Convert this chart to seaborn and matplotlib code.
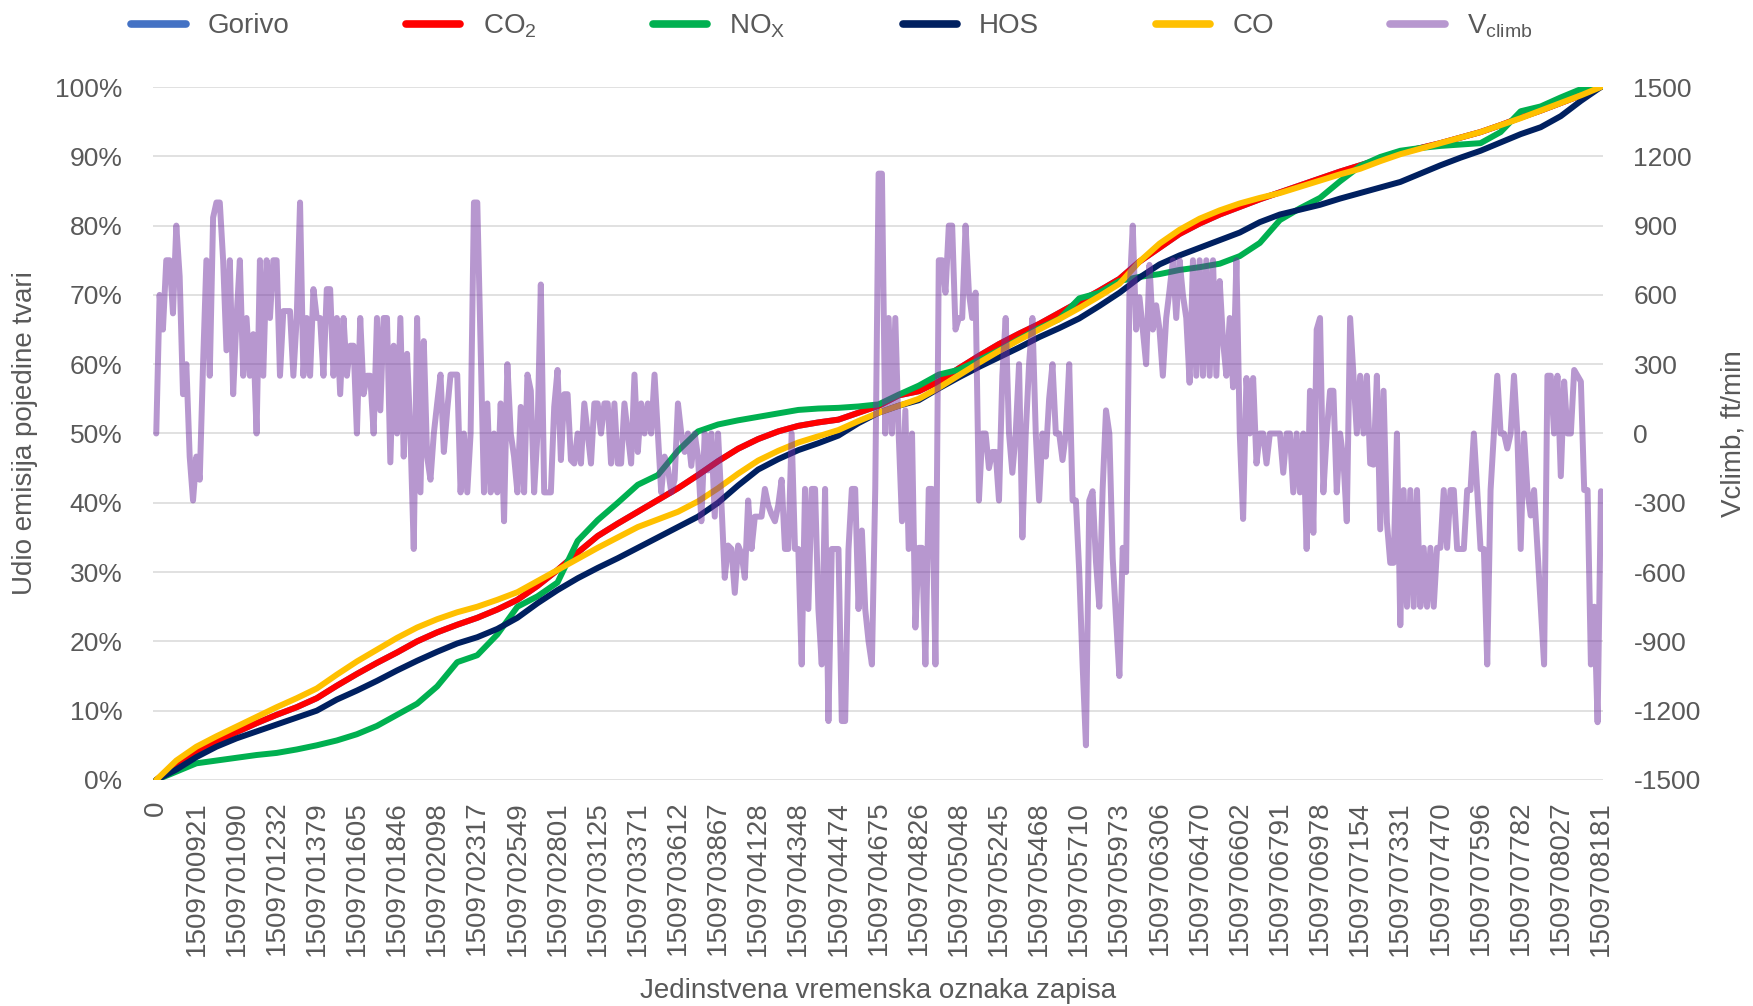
import numpy as np
import pandas as pd
import seaborn as sns
import matplotlib.pyplot as plt
from matplotlib.lines import Line2D
from matplotlib.ticker import PercentFormatter

# category labels on the x axis (every n-th record shown)
timestamps = ['0', '1509700921', '1509701090', '1509701232', '1509701379', '1509701605',
              '1509701846', '1509702098', '1509702317', '1509702549', '1509702801',
              '1509703125', '1509703371', '1509703612', '1509703867', '1509704128',
              '1509704348', '1509704474', '1509704675', '1509704826', '1509705048',
              '1509705245', '1509705468', '1509705710', '1509705973', '1509706306',
              '1509706470', '1509706602', '1509706791', '1509706978', '1509707154',
              '1509707331', '1509707470', '1509707596', '1509707782', '1509708027',
              '1509708181']

# cumulative share of each emission (%), read every half label step
co2_pct = [0, 2.2, 4.2, 5.6, 6.9, 8.2, 9.4, 10.5, 11.8, 13.6,
           15.3, 16.9, 18.4, 20.0, 21.3, 22.4, 23.4, 24.6, 26.0, 28.0,
           30.3, 32.8, 35.2, 37.0, 38.7, 40.4, 42.1, 44.0, 46.0, 47.8,
           49.2, 50.3, 51.1, 51.6, 52.0, 53.0, 54.0, 55.5, 56.1, 57.5,
           59.4, 61.2, 62.9, 64.4, 65.8, 67.4, 69.0, 70.6, 72.3, 74.8,
           76.8, 78.8, 80.3, 81.6, 82.7, 83.8, 84.8, 85.8, 86.8, 87.8,
           88.7, 89.6, 90.5, 91.2, 91.9, 92.7, 93.5, 94.5, 95.6, 96.6,
           97.7, 98.8, 100]
# fuel share is the same curve as CO2 (hidden under the red line)
gorivo_pct = list(co2_pct)
nox_pct = [0, 1.2, 2.4, 2.8, 3.2, 3.6, 3.9, 4.4, 5.0, 5.7,
           6.6, 7.8, 9.4, 11.0, 13.5, 17.0, 18.0, 21.0, 25.0, 26.5,
           28.5, 34.5, 37.5, 40.0, 42.6, 44.0, 47.5, 50.3, 51.3, 51.9,
           52.4, 52.9, 53.4, 53.6, 53.7, 53.9, 54.2, 55.6, 56.9, 58.5,
           59.2, 60.6, 62.0, 63.6, 65.2, 66.5, 69.5, 70.3, 72.0, 72.6,
           73.0, 73.6, 74.0, 74.5, 75.6, 77.5, 80.8, 82.5, 84.0, 86.4,
           88.6, 89.9, 90.8, 91.2, 91.5, 91.7, 91.9, 93.5, 96.5, 97.2,
           98.5, 99.7, 100]
hos_pct = [0, 1.5, 3.3, 4.8, 6.0, 7.0, 8.0, 9.0, 10.0, 11.6,
           12.9, 14.3, 15.8, 17.2, 18.5, 19.7, 20.6, 21.8, 23.4, 25.5,
           27.4, 29.1, 30.6, 32.0, 33.5, 35.0, 36.5, 38.0, 40.0, 42.5,
           44.8, 46.3, 47.6, 48.6, 49.7, 51.5, 53.0, 54.0, 54.8, 56.5,
           58.1, 59.6, 61.0, 62.4, 63.9, 65.2, 66.6, 68.4, 70.3, 72.5,
           74.4, 75.7, 76.8, 77.9, 79.0, 80.5, 81.6, 82.3, 83.0, 83.9,
           84.7, 85.5, 86.3, 87.5, 88.7, 89.8, 90.8, 92.0, 93.2, 94.2,
           95.8, 98.0, 100]
co_pct = [0, 2.8, 4.8, 6.3, 7.7, 9.1, 10.5, 11.8, 13.2, 15.2,
          17.1, 18.8, 20.5, 22.0, 23.2, 24.2, 25.0, 26.0, 27.1, 28.7,
          30.3, 31.9, 33.5, 35.0, 36.5, 37.6, 38.7, 40.2, 42.1, 44.2,
          46.1, 47.5, 48.7, 49.6, 50.5, 51.8, 53.0, 54.0, 55.0, 56.6,
          58.4, 60.2, 61.9, 63.5, 65.0, 66.5, 68.1, 69.8, 71.6, 74.8,
          77.4, 79.4, 81.0, 82.2, 83.2, 84.0, 84.7, 85.6, 86.5, 87.4,
          88.2, 89.3, 90.3, 91.1, 91.9, 92.7, 93.5, 94.5, 95.5, 96.6,
          97.7, 98.8, 100]

# climb rate (ft/min), twelve readings per label step
vclimb = [0, 600, 450, 750, 750, 520, 900, 680, 170, 300, -100, -290,
          -100, -200, 300, 750, 250, 935, 1000, 1000, 750, 360, 750, 170,
          500, 750, 250, 500, 250, 430, 0, 750, 250, 750, 500, 750,
          750, 250, 530, 530, 530, 250, 500, 1000, 250, 500, 250, 625,
          500, 500, 250, 625, 625, 250, 500, 170, 500, 250, 380, 380,
          0, 500, 170, 250, 250, 0, 500, 100, 500, 500, -125, 380,
          0, 500, -100, 345, 0, -500, 500, -255, 400, -100, -200, 0,
          130, 255, -80, 100, 255, 255, 255, -255, 0, -255, 0, 1000,
          1000, 380, -255, 130, -255, 0, -255, 130, -380, 300, 0, -100,
          -255, 115, -255, 255, 185, -255, 0, 645, -255, -255, -255, 115,
          275, -115, 170, 170, -115, -130, 0, -130, 130, 0, -130, 130,
          130, 0, 130, 130, -130, 130, -130, -130, 130, 0, -130, 255,
          -80, 130, 0, 130, 0, 255, 0, -255, -100, -150, -255, -200,
          130, 0, -80, 0, -140, 0, -100, -380, 0, -160, 0, -360,
          0, -300, -625, -485, -500, -690, -485, -520, -625, -290, -500, -360,
          -360, -360, -240, -310, -350, -380, -310, -200, -500, -500, 0, -500,
          -500, -1000, -240, -760, -240, -240, -760, -1000, -240, -1245, -500, -500,
          -500, -1245, -1245, -500, -240, -240, -760, -420, -760, -900, -1000, -240,
          1125, 1125, 0, 500, 0, 500, 0, -380, 100, -500, 0, -840,
          -495, -495, -1000, -240, -240, -1000, 750, 750, 610, 900, 900, 450,
          500, 500, 900, 610, 500, 610, -290, 0, 0, -150, -80, -80,
          -290, 250, 500, 0, -170, 0, 300, -450, 0, 300, 500, 0,
          -290, 0, -100, 150, 300, 0, 0, -115, 0, 300, -290, -290,
          -600, -1000, -1350, -290, -250, -555, -750, -240, 100, 0, -540, -800,
          -1050, -495, -600, 600, 900, 450, 590, 450, 300, 730, 450, 555,
          450, 250, 500, 620, 750, 500, 750, 600, 500, 220, 750, 250,
          750, 250, 750, 250, 750, 250, 660, 400, 250, 500, 200, 750,
          0, -370, 240, 0, 240, -130, 0, 0, -130, 0, 0, 0,
          0, -170, 0, 0, -255, 0, -255, 0, -500, 185, -430, 450,
          500, -255, 0, 185, 185, -255, 0, -115, -380, 500, 250, 0,
          250, 0, 250, -130, -135, 250, -415, 185, -385, -560, -560, 0,
          -830, -245, -750, -245, -750, -245, -750, -495, -750, -495, -750, -495,
          -495, -245, -495, -245, -245, -500, -500, -500, -245, -245, 0, -245,
          -500, -500, -1000, -245, 0, 250, 0, 0, -65, 0, 250, 0,
          -500, 0, -245, -355, -245, -495, -750, -1000, 250, 250, 0, 250,
          -185, 225, 0, 0, 275, 250, 225, -245, -245, -1000, -750, -1250,
          -250]

series_names = ['Gorivo', 'CO$_2$', 'NO$_X$', 'HOS', 'CO']
colors = {'Gorivo': '#4472C4', 'CO$_2$': '#FF0000', 'NO$_X$': '#00B050',
          'HOS': '#002060', 'CO': '#FFC000'}
vc_color = '#7030A0'
grey = '#595959'

sns.set_theme(style='white')
plt.rcParams['font.family'] = ['Liberation Sans', 'DejaVu Sans']
plt.rcParams['mathtext.default'] = 'regular'
plt.rcParams['axes.unicode_minus'] = False

n_lab = len(timestamps) - 1
x_em = np.linspace(0, n_lab, len(co2_pct))
x_vc = np.linspace(0, n_lab, len(vclimb))

emis = pd.concat([
    pd.DataFrame({'x': x_em, 'udio': vals, 'tvar': name})
    for name, vals in zip(series_names, [gorivo_pct, co2_pct, nox_pct, hos_pct, co_pct])
])

fig, ax = plt.subplots(figsize=(17.53, 10.06), dpi=100)
fig.subplots_adjust(left=0.0873, right=0.9144, top=0.9135, bottom=0.2247)

sns.lineplot(data=emis, x='x', y='udio', hue='tvar', hue_order=series_names,
             palette=colors, linewidth=4.3, estimator=None, legend=False, ax=ax)

ax2 = ax.twinx()
sns.lineplot(x=x_vc, y=vclimb, color=vc_color, alpha=0.5, linewidth=4.3,
             estimator=None, ax=ax2)

ax.set_xlim(-0.08, n_lab + 0.05)
ax.set_ylim(0, 100)
ax.set_yticks(range(0, 101, 10))
ax.yaxis.set_major_formatter(PercentFormatter(100, decimals=0))
ax.set_xticks(range(len(timestamps)))
ax.set_xticklabels(timestamps, rotation=90)
ax2.set_ylim(-1500, 1500)
ax2.set_yticks(range(-1500, 1501, 300))

ax.yaxis.grid(True, color='#d9d9d9', linewidth=1.1)
ax.xaxis.grid(False)
ax2.grid(False)
ax.set_axisbelow(True)
for a in (ax, ax2):
    for s in a.spines.values():
        s.set_visible(False)

ax.tick_params(axis='x', length=0, pad=15, labelsize=20, labelcolor=grey)
ax.tick_params(axis='y', length=0, pad=22, labelsize=19, labelcolor=grey)
ax2.tick_params(axis='y', length=0, pad=22, labelsize=19, labelcolor=grey)

ax.set_xlabel('Jedinstvena vremenska oznaka zapisa', fontsize=20, color=grey, labelpad=16)
ax.set_ylabel('Udio emisija pojedine tvari', fontsize=20, color=grey, labelpad=12)
ax2.set_ylabel('Vclimb, ft/min', fontsize=20, color=grey, labelpad=14)

handles = [Line2D([], [], color=colors[n], linewidth=5.5, solid_capstyle='round')
           for n in series_names]
handles.append(Line2D([], [], color=vc_color, alpha=0.5, linewidth=5.5,
                      solid_capstyle='round'))
labels = series_names + ['V$_{climb}$']
fig.legend(handles, labels, loc='center', bbox_to_anchor=(0.4745, 0.974), ncol=6,
           frameon=False, fontsize=20, labelcolor=grey, handlelength=1.95,
           handletextpad=0.8, columnspacing=4.2)

fig.savefig('out.png', dpi=100)
